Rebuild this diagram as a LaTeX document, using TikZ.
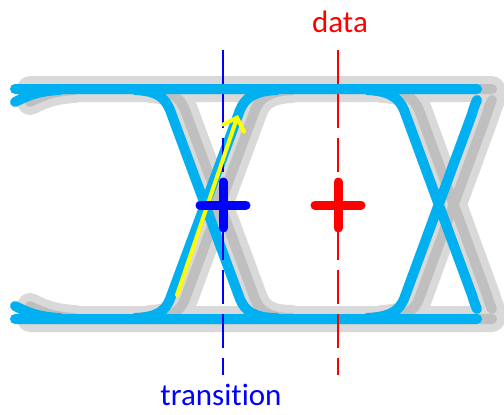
\documentclass[tikz,border=0pt]{standalone}
\usepackage{fontspec}
\setmainfont{Carlito}[Ligatures=NoCommon]
\usetikzlibrary{arrows.meta}
\definecolor{eyeblue}{RGB}{0,176,240}
\definecolor{shadelight}{RGB}{217,217,217}
\definecolor{shadedark}{RGB}{191,191,191}
\definecolor{markblue}{RGB}{0,0,255}
\definecolor{markred}{RGB}{255,0,0}
\definecolor{riseyellow}{RGB}{255,255,0}

% one copy of the eye traces
\newcommand{\eyetrace}[1]{%
  \draw[#1] (15,89) -- (477,89)
    (15,319) -- (477,319)
    (15,102) .. controls (27,96) and (38,91) .. (60,90)
    (15,306) .. controls (27,312) and (38,317) .. (60,318)
    (135,90) .. controls (158,91) and (165,98) .. (170,110) -- (240,299)
      .. controls (245,311) and (254,318) .. (277,318)
    (135,318) .. controls (158,317) and (165,311) .. (170,299) -- (240,110)
      .. controls (245,98) and (254,91) .. (277,90)
    (367,90) .. controls (390,91) and (399,98) .. (404,110) -- (472,295)
      .. controls (474,302) and (476,307) .. (477,309)
    (367,318) .. controls (390,317) and (399,311) .. (404,299) -- (472,114)
      .. controls (474,107) and (476,102) .. (477,100);}

\begin{document}
\begin{tikzpicture}[x=1pt, y=-1pt,
    trace/.style={line width=10pt, line cap=round, line join=round},
    halo/.style={trace, draw=shadelight, line width=26pt, xshift=15pt},
    shadow/.style={trace, draw=shadedark, xshift=15pt},
    eye/.style={trace, draw=eyeblue},
    sampleline/.style={line width=2pt, dash pattern=on 34pt off 10pt},
    plusmark/.style={line width=9pt, line cap=round},
    eyelabel/.style={font=\fontsize{31}{37}\selectfont, anchor=base, inner sep=0pt},
    rise/.style={draw=riseyellow, line width=4pt, line cap=round,
      -{Straight Barb[length=11pt, width=22pt, line cap=round]}}
]
\useasboundingbox (0,0) rectangle (504,415);

% shadows and eye
\eyetrace{halo}
\eyetrace{shadow}
\eyetrace{eye}

% sampling instants
\coordinate (transtop) at (223,50);
\coordinate (transbot) at (223,375);
\coordinate (datatop) at (338,50);
\coordinate (databot) at (338,375);
\coordinate (transc) at (223,205);
\coordinate (datac) at (338,205);

\draw[sampleline, markblue] (transtop) -- (transbot);
\draw[sampleline, markred] (datatop) -- (databot);

\coordinate (risestart) at (177,295);
\coordinate (riseend) at (238,115);
\draw[rise] (risestart) -- (riseend);

\draw[plusmark, markblue] ([yshift=-23pt]transc) -- ([yshift=23pt]transc)
  ([xshift=-23pt]transc) -- ([xshift=23pt]transc);
\draw[plusmark, markred] ([yshift=-23pt]datac) -- ([yshift=23pt]datac)
  ([xshift=-23pt]datac) -- ([xshift=23pt]datac);

\node[eyelabel, text=markred] (datalbl) at (340,32) {data};
\node[eyelabel, text=markblue] (translbl) at (221,405) {transition};
\end{tikzpicture}
\end{document}
